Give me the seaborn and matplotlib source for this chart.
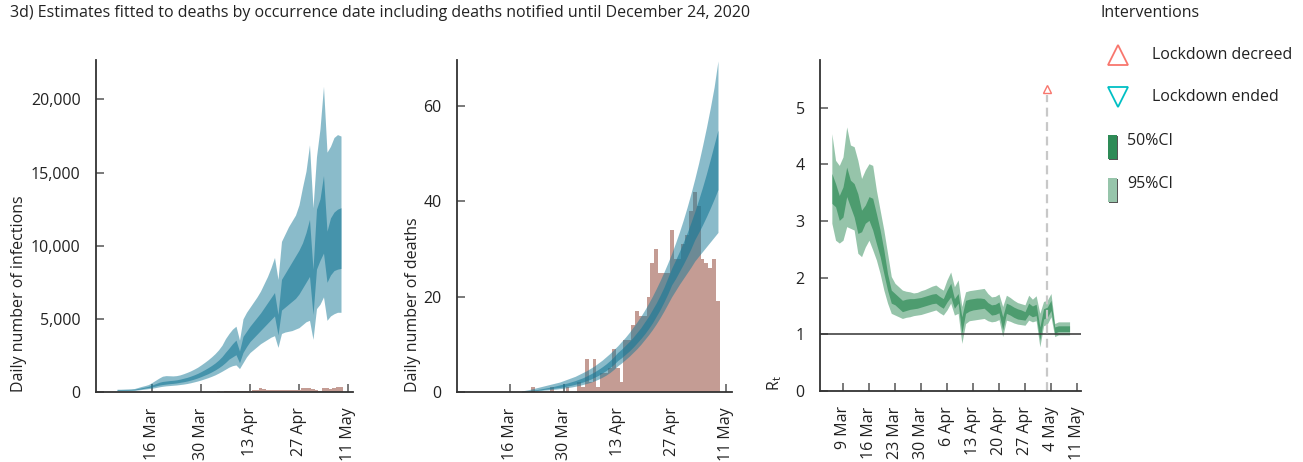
import pandas as pd
import seaborn as sns
import matplotlib.pyplot as plt
import matplotlib.dates as mdates
from matplotlib.lines import Line2D
from matplotlib.patches import Rectangle

# ---------------- data ----------------
title = "3d) Estimates fitted to deaths by occurrence date including deaths notified until December 24, 2020"

# daily infections, 6 Mar .. 9 May
inf_start = "2020-03-06"
inf_lo95 = [90, 90, 95, 100, 105, 110, 140, 170, 200, 230, 260, 300, 350, 390, 420, 440, 460, 480, 510, 540,
            580, 630, 690, 750, 820, 900,
            980, 1070, 1170, 1290, 1420, 1560, 1700, 1800, 1850, 1600, 2000, 2400, 2700, 2900, 3100, 3300,
            3450, 3600, 3750, 3850, 3050, 4000, 4100, 4150, 4200, 4300, 4400, 4600, 4800, 4900,
            3600, 5700, 6000, 6500, 4900, 5200, 5350, 5450, 5450]
inf_lo50 = [120, 120, 125, 130, 135, 145, 180, 220, 260, 300, 350, 410, 470, 510, 540, 570, 590, 620, 660, 700,
            750, 810, 880, 960, 1050, 1150,
            1250, 1370, 1500, 1650, 1820, 2020, 2250, 2400, 2550, 2000, 2700, 3100, 3450, 3700, 3950, 4200,
            4450, 4700, 4950, 5200, 3900, 5600, 5800, 6000, 6200, 6400, 6700, 7100, 7500, 7900,
            5300, 8400, 9000, 9500, 7500, 8000, 8300, 8400, 8450]
inf_hi50 = [160, 160, 165, 170, 175, 190, 240, 290, 340, 390, 480, 570, 660, 720, 750, 780, 800, 830, 880, 940,
            1000, 1080, 1170, 1270, 1390, 1520,
            1660, 1810, 1980, 2180, 2420, 2720, 3000, 3300, 3550, 2800, 3800, 4150, 4500, 4800, 5100, 5400,
            5750, 6100, 6450, 6800, 5300, 7700, 8100, 8500, 8900, 9300, 9700, 10200, 10900, 11800,
            8400, 12500, 13200, 14800, 11000, 11900, 12300, 12500, 12600]
inf_hi95 = [190, 190, 200, 210, 220, 240, 310, 380, 440, 510, 650, 800, 950, 1080, 1120, 1110, 1100, 1120, 1170, 1250,
            1340, 1440, 1560, 1690, 1850, 2020,
            2200, 2400, 2620, 2880, 3200, 3650, 4000, 4300, 4500, 3550, 5000, 5450, 5800, 6150, 6500, 6900,
            7400, 7900, 8500, 9200, 7700, 10300, 10800, 11300, 11700, 12100, 12800, 14000, 15100, 16900,
            12600, 16100, 18000, 20900, 16400, 16800, 17400, 17600, 17500]

# small bars under the infection curve, 4 Apr .. 9 May
inf_bar_start = "2020-04-04"
inf_bars = [60, 30, 70, 40, 60, 80, 90, 90, 50, 40, 120, 130, 250, 230, 110, 110, 160, 170, 160, 150,
            120, 120, 110, 130, 290, 300, 260,
            180, 150, 100, 280, 300, 200, 280, 320, 320]

# reported deaths by occurrence date, 22 Mar .. 9 May
death_start = "2020-03-22"
deaths = [1, 0, 0, 0, 0, 1, 0, 0, 0, 1,
          0, 0, 2, 1, 7, 2, 7, 1, 4, 4, 5, 9, 5, 2, 11, 11, 14, 17, 16, 16,
          20, 27, 30, 25, 25, 25, 34, 28, 28, 31,
          33, 38, 42, 39, 28, 27, 26, 28, 19]

# fitted deaths, 19 Mar .. 9 May
fit_start = "2020-03-19"
fit_lo95 = [0.0, 0.05, 0.1, 0.15, 0.2, 0.3, 0.4, 0.45, 0.55, 0.6, 0.7, 0.8, 0.92,
            1.05, 1.2, 1.38, 1.58, 1.8, 2.05, 2.35, 2.7, 3.1, 3.55, 4.1, 4.75, 5.5, 6.1, 6.8, 7.5, 8.3,
            9.1, 10.0, 11.0, 12.0, 13.1, 14.3, 15.6, 17.0, 18.5, 20.0, 21.3, 22.6, 23.8,
            25.0, 26.2, 27.5, 28.5, 29.5, 30.5, 31.5, 32.5, 33.5]
fit_lo50 = [0.05, 0.1, 0.15, 0.25, 0.35, 0.45, 0.55, 0.65, 0.75, 0.85, 0.95, 1.1, 1.25,
            1.42, 1.62, 1.84, 2.1, 2.4, 2.7, 3.1, 3.5, 4.0, 4.5, 5.1, 5.8, 6.6, 7.2, 7.9, 8.6, 9.4,
            10.3, 11.2, 12.2, 13.3, 14.5, 15.9, 17.3, 18.9, 20.6, 22.5, 23.8, 25.3, 26.8,
            28.4, 30.1, 32.0, 33.5, 35.1, 36.8, 38.6, 40.5, 42.5]
fit_hi50 = [0.1, 0.2, 0.3, 0.4, 0.5, 0.65, 0.8, 0.95, 1.1, 1.3, 1.5, 1.7, 1.9,
            2.15, 2.4, 2.7, 3.0, 3.4, 3.8, 4.25, 4.75, 5.3, 5.9, 6.6, 7.4, 8.3, 9.0, 9.8, 10.6, 11.5,
            12.5, 13.5, 14.7, 15.9, 17.3, 18.7, 20.3, 22.0, 24.0, 26.0, 27.7, 29.5, 31.4,
            33.4, 35.6, 37.9, 40.4, 43.0, 45.8, 48.8, 51.9, 55.0]
fit_hi95 = [0.2, 0.35, 0.5, 0.7, 0.9, 1.1, 1.3, 1.5, 1.7, 1.9, 2.1, 2.4, 2.7,
            3.0, 3.3, 3.7, 4.1, 4.5, 5.0, 5.5, 6.1, 6.7, 7.4, 8.1, 8.9, 9.7, 10.6, 11.5, 12.5, 13.6,
            14.7, 15.9, 17.2, 18.6, 20.1, 21.7, 23.4, 25.2, 27.1, 29.1, 31.3, 33.6, 36.1,
            38.8, 41.7, 44.8, 48.1, 51.7, 55.5, 59.6, 64.0, 69.5]

# reproduction number Rt, 6 Mar .. 9 May
rt_start = "2020-03-06"
rt_lo95 = [2.96, 2.66, 2.61, 2.66, 2.90, 2.87, 2.84, 2.43, 2.37, 2.54, 2.66, 2.49, 2.31, 2.07, 1.78, 1.55,
           1.37, 1.34, 1.31, 1.28, 1.30, 1.31, 1.33, 1.34, 1.35, 1.37,
           1.39, 1.41, 1.43, 1.38, 1.34, 1.43, 1.55, 1.34, 1.37, 0.84, 1.19, 1.24, 1.25, 1.26, 1.27, 1.28,
           1.24, 1.22, 1.23, 1.26, 0.96, 1.25, 1.23, 1.20, 1.18, 1.17, 1.16, 1.25, 1.22, 1.24,
           0.78, 1.15, 1.18, 1.31, 0.96, 0.99, 0.99, 0.99, 0.99]
rt_lo50 = [3.31, 3.25, 3.01, 3.07, 3.43, 3.25, 3.07, 2.78, 2.81, 2.96, 3.01, 2.84, 2.60, 2.37, 2.07, 1.78,
           1.55, 1.52, 1.46, 1.40, 1.42, 1.44, 1.45, 1.46, 1.48, 1.50,
           1.52, 1.54, 1.55, 1.50, 1.46, 1.57, 1.66, 1.46, 1.55, 1.02, 1.37, 1.41, 1.43, 1.44, 1.45, 1.46,
           1.40, 1.34, 1.35, 1.38, 1.08, 1.37, 1.34, 1.30, 1.27, 1.26, 1.25, 1.35, 1.31, 1.33,
           0.90, 1.27, 1.30, 1.42, 1.02, 1.05, 1.05, 1.05, 1.05]
rt_hi50 = [3.84, 3.66, 3.45, 3.60, 3.95, 3.72, 3.66, 3.48, 3.19, 3.28, 3.43, 3.40, 3.13, 2.84, 2.49, 2.07,
           1.78, 1.72, 1.66, 1.60, 1.62, 1.63, 1.63, 1.64, 1.65, 1.67,
           1.69, 1.71, 1.72, 1.67, 1.63, 1.78, 1.90, 1.63, 1.72, 1.31, 1.60, 1.62, 1.63, 1.64, 1.64, 1.63,
           1.56, 1.52, 1.53, 1.57, 1.31, 1.55, 1.52, 1.48, 1.45, 1.43, 1.40, 1.55, 1.50, 1.53,
           1.13, 1.45, 1.48, 1.60, 1.13, 1.15, 1.15, 1.15, 1.15]
rt_hi95 = [4.54, 4.07, 3.98, 4.13, 4.66, 4.34, 4.31, 4.07, 3.75, 3.90, 4.01, 3.98, 3.54, 3.19, 2.84, 2.43,
           2.02, 1.90, 1.84, 1.78, 1.76, 1.75, 1.73, 1.74, 1.77, 1.79,
           1.82, 1.85, 1.87, 1.82, 1.78, 1.96, 2.10, 1.84, 1.96, 1.49, 1.75, 1.77, 1.78, 1.79, 1.80, 1.81,
           1.72, 1.66, 1.67, 1.71, 1.49, 1.69, 1.65, 1.60, 1.56, 1.54, 1.52, 1.69, 1.62, 1.68,
           1.37, 1.58, 1.60, 1.72, 1.19, 1.22, 1.22, 1.22, 1.22]

lockdown_date = "2020-05-03"
lockdown_rt = 5.32

# axis ticks
ticks_a = ["2020-03-16", "2020-03-30", "2020-04-13", "2020-04-27", "2020-05-11"]
ticklabels_a = ["16 Mar", "30 Mar", "13 Apr", "27 Apr", "11 May"]
ticks_rt = ["2020-03-09", "2020-03-16", "2020-03-23", "2020-03-30", "2020-04-06", "2020-04-13",
            "2020-04-20", "2020-04-27", "2020-05-04", "2020-05-11"]
ticklabels_rt = ["9 Mar", "16 Mar", "23 Mar", "30 Mar", "6 Apr", "13 Apr", "20 Apr", "27 Apr", "4 May", "11 May"]
yticks_inf = [0, 5000, 10000, 15000, 20000]
yticklabels_inf = ["0", "5,000", "10,000", "15,000", "20,000"]
yticks_deaths = [0, 20, 40, 60]
yticks_rt = [0, 1, 2, 3, 4, 5]

BLUE = "#177997"
BAR = "#c49c94"
GREEN = "#2e8b57"
LIGHT_GREEN = "#97c5ab"
FS = 11.5
W, H = 1303, 462


def days(start, values):
    return mdates.date2num(pd.date_range(start, periods=len(values), freq="D"))


def dnum(s):
    return mdates.date2num(pd.Timestamp(s))


def style_axis(ax):
    sns.despine(ax=ax)
    for side in ["left", "bottom"]:
        ax.spines[side].set_color("#333333")
        ax.spines[side].set_linewidth(1.3)
    ax.tick_params(direction="in", length=6, width=1.1, color="#555555",
                   labelsize=FS, pad=11, labelcolor="#222222")
    ax.tick_params(axis="x", labelrotation=90)


sns.set_theme(style="ticks")
plt.rcParams["font.family"] = ["Open Sans", "DejaVu Sans"]

fig = plt.figure(figsize=(W / 100, H / 100), dpi=100)

# ---------------- panel 1: infections ----------------
ax1 = fig.add_axes([96 / W, 1 - 392 / H, 257 / W, 332 / H])
ax1.bar(days(inf_bar_start, inf_bars), inf_bars, width=1, color=BAR, linewidth=0)
x = days(inf_start, inf_lo95)
ax1.fill_between(x, inf_lo95, inf_hi95, color=BLUE, alpha=0.5, linewidth=0)
ax1.fill_between(x, inf_lo50, inf_hi50, color=BLUE, alpha=0.6, linewidth=0)
ax1.set_xlim(dnum("2020-02-29"), dnum("2020-05-12") + 0.43)
ax1.set_ylim(0, 22700)
ax1.set_xticks([dnum(t) for t in ticks_a])
ax1.set_xticklabels(ticklabels_a)
ax1.set_yticks(yticks_inf)
ax1.set_yticklabels(yticklabels_inf)
ax1.set_ylabel("Daily number of infections", loc="bottom", fontsize=FS, color="#222222")
ax1.yaxis.set_label_coords((27 - 96) / 257, 0)
style_axis(ax1)

# ---------------- panel 2: deaths ----------------
ax2 = fig.add_axes([457 / W, 1 - 392 / H, 275 / W, 332 / H])
ax2.bar(days(death_start, deaths), deaths, width=1, color=BAR, linewidth=0)
x = days(fit_start, fit_lo95)
ax2.fill_between(x, fit_lo95, fit_hi95, color=BLUE, alpha=0.5, linewidth=0)
ax2.fill_between(x, fit_lo50, fit_hi50, color=BLUE, alpha=0.6, linewidth=0)
ax2.set_xlim(dnum("2020-03-02") + 0.34, dnum("2020-05-12") + 0.64)
ax2.set_ylim(0, 69.7)
ax2.set_xticks([dnum(t) for t in ticks_a])
ax2.set_xticklabels(ticklabels_a)
ax2.set_yticks(yticks_deaths)
ax2.set_ylabel("Daily number of deaths", loc="bottom", fontsize=FS, color="#222222")
ax2.yaxis.set_label_coords((421 - 457) / 275, 0)
style_axis(ax2)

# ---------------- panel 3: Rt ----------------
ax3 = fig.add_axes([820 / W, 1 - 391 / H, 261 / W, 331 / H])
x = days(rt_start, rt_lo95)
ax3.fill_between(x, rt_lo95, rt_hi95, color=GREEN, alpha=0.5, linewidth=0)
ax3.fill_between(x, rt_lo50, rt_hi50, color=GREEN, alpha=0.7, linewidth=0)
ax3.axhline(1, color="#333333", linewidth=1.1)
ld = dnum(lockdown_date)
ax3.vlines(ld, 0, lockdown_rt - 0.1, color="#c8c8c8", linewidth=1.6, linestyles=(0, (4, 2.5)))
ax3.plot([ld], [lockdown_rt], marker="^", markersize=6, markerfacecolor="none",
         markeredgecolor="#F8766D", markeredgewidth=1, linestyle="none")
ax3.set_xlim(dnum("2020-03-02") + 0.81, dnum("2020-05-12") + 0.08)
ax3.set_ylim(0, 5.84)
ax3.set_xticks([dnum(t) for t in ticks_rt])
ax3.set_xticklabels(ticklabels_rt)
ax3.set_yticks(yticks_rt)
ax3.set_ylabel(r"R$_{\mathregular{t}}$", loc="bottom", fontsize=FS, color="#222222")
ax3.yaxis.set_label_coords((784 - 820) / 261, 0)
style_axis(ax3)

# ---------------- title and legend ----------------
fig.text(10 / W, 1 - 13 / H, title, ha="left", va="center", fontsize=FS, color="#222222")
fig.text(1100 / W, 1 - 13 / H, "Interventions", ha="left", va="center", fontsize=FS, color="#222222")

fig.add_artist(Line2D([1118 / W], [1 - 55 / H], marker="^", markersize=14, markerfacecolor="none",
                      markeredgecolor="#F8766D", markeredgewidth=1.3, transform=fig.transFigure))
fig.text(1152 / W, 1 - 55 / H, "Lockdown decreed", ha="left", va="center", fontsize=FS, color="#222222")
fig.add_artist(Line2D([1118 / W], [1 - 97 / H], marker="v", markersize=14, markerfacecolor="none",
                      markeredgecolor="#00BFC4", markeredgewidth=1.3, transform=fig.transFigure))
fig.text(1152 / W, 1 - 97 / H, "Lockdown ended", ha="left", va="center", fontsize=FS, color="#222222")

for top, color, label in [(135, GREEN, "50%CI"), (178, LIGHT_GREEN, "95%CI")]:
    fig.add_artist(Rectangle((1109 / W, 1 - (top + 25) / H), 9 / W, 24 / H,
                             transform=fig.transFigure, facecolor="#555555", edgecolor="none"))
    fig.add_artist(Rectangle((1108 / W, 1 - (top + 24) / H), 9 / W, 24 / H,
                             transform=fig.transFigure, facecolor=color, edgecolor="none"))
    fig.text(1127 / W, 1 - (top + 6) / H, label, ha="left", va="center", fontsize=FS, color="#222222")

fig.savefig("out.png", dpi=100)
